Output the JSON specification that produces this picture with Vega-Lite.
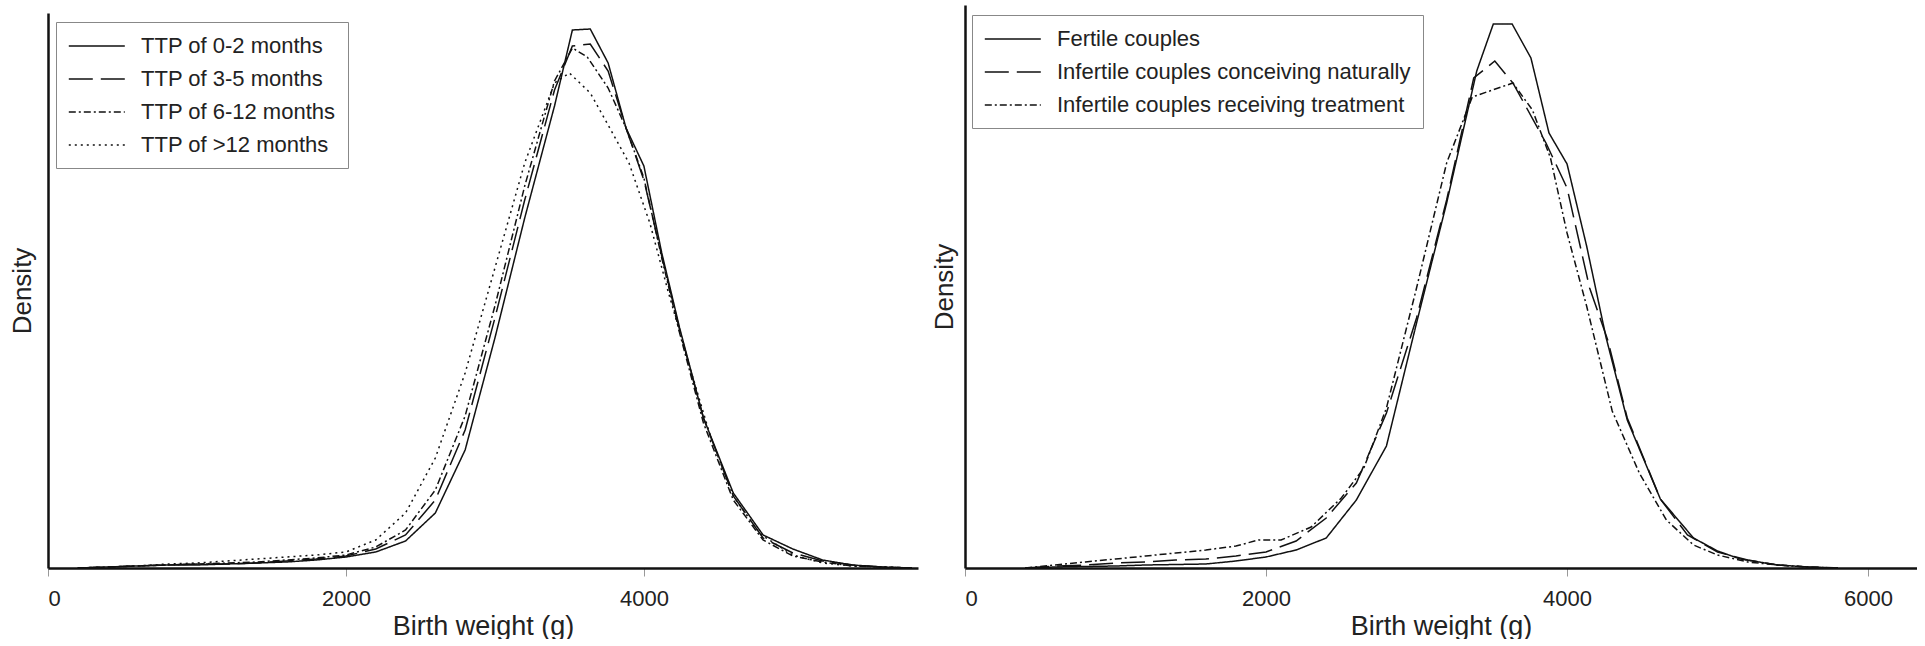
{
  "$schema": "https://vega.github.io/schema/vega-lite/v6.json",
  "background": "white",
  "padding": {"left": 9, "top": 5, "right": 0, "bottom": 0},
  "bounds": "flush",
  "spacing": 47,
  "config": {"view": {"stroke": null}, "font": "Liberation Sans"},
  "resolve": {"scale": {"x": "independent", "y": "independent", "strokeDash": "independent"}, "legend": {"strokeDash": "independent"}},
  "datasets": {
    "ttp": [
      {"group": "TTP of 0-2 months", "weight": 200, "density": 0},
      {"group": "TTP of 0-2 months", "weight": 400, "density": 1},
      {"group": "TTP of 0-2 months", "weight": 600, "density": 2},
      {"group": "TTP of 0-2 months", "weight": 800, "density": 3},
      {"group": "TTP of 0-2 months", "weight": 1000, "density": 3},
      {"group": "TTP of 0-2 months", "weight": 1200, "density": 4},
      {"group": "TTP of 0-2 months", "weight": 1400, "density": 5},
      {"group": "TTP of 0-2 months", "weight": 1600, "density": 6},
      {"group": "TTP of 0-2 months", "weight": 1800, "density": 8},
      {"group": "TTP of 0-2 months", "weight": 2000, "density": 11},
      {"group": "TTP of 0-2 months", "weight": 2200, "density": 16},
      {"group": "TTP of 0-2 months", "weight": 2400, "density": 27},
      {"group": "TTP of 0-2 months", "weight": 2600, "density": 55},
      {"group": "TTP of 0-2 months", "weight": 2800, "density": 118},
      {"group": "TTP of 0-2 months", "weight": 3000, "density": 230},
      {"group": "TTP of 0-2 months", "weight": 3200, "density": 350},
      {"group": "TTP of 0-2 months", "weight": 3400, "density": 462},
      {"group": "TTP of 0-2 months", "weight": 3520, "density": 538},
      {"group": "TTP of 0-2 months", "weight": 3640, "density": 539},
      {"group": "TTP of 0-2 months", "weight": 3760, "density": 505},
      {"group": "TTP of 0-2 months", "weight": 3880, "density": 440},
      {"group": "TTP of 0-2 months", "weight": 4000, "density": 402},
      {"group": "TTP of 0-2 months", "weight": 4120, "density": 315},
      {"group": "TTP of 0-2 months", "weight": 4240, "density": 240},
      {"group": "TTP of 0-2 months", "weight": 4400, "density": 150},
      {"group": "TTP of 0-2 months", "weight": 4600, "density": 75},
      {"group": "TTP of 0-2 months", "weight": 4800, "density": 33},
      {"group": "TTP of 0-2 months", "weight": 5000, "density": 19},
      {"group": "TTP of 0-2 months", "weight": 5200, "density": 8},
      {"group": "TTP of 0-2 months", "weight": 5400, "density": 3},
      {"group": "TTP of 0-2 months", "weight": 5600, "density": 1},
      {"group": "TTP of 0-2 months", "weight": 5800, "density": 0},

      {"group": "TTP of 3-5 months", "weight": 200, "density": 0},
      {"group": "TTP of 3-5 months", "weight": 400, "density": 1},
      {"group": "TTP of 3-5 months", "weight": 600, "density": 2},
      {"group": "TTP of 3-5 months", "weight": 800, "density": 3},
      {"group": "TTP of 3-5 months", "weight": 1000, "density": 4},
      {"group": "TTP of 3-5 months", "weight": 1200, "density": 4},
      {"group": "TTP of 3-5 months", "weight": 1400, "density": 5},
      {"group": "TTP of 3-5 months", "weight": 1600, "density": 7},
      {"group": "TTP of 3-5 months", "weight": 1800, "density": 9},
      {"group": "TTP of 3-5 months", "weight": 2000, "density": 12},
      {"group": "TTP of 3-5 months", "weight": 2200, "density": 19},
      {"group": "TTP of 3-5 months", "weight": 2400, "density": 33},
      {"group": "TTP of 3-5 months", "weight": 2600, "density": 68},
      {"group": "TTP of 3-5 months", "weight": 2800, "density": 138},
      {"group": "TTP of 3-5 months", "weight": 3000, "density": 250},
      {"group": "TTP of 3-5 months", "weight": 3200, "density": 368},
      {"group": "TTP of 3-5 months", "weight": 3400, "density": 478},
      {"group": "TTP of 3-5 months", "weight": 3520, "density": 522},
      {"group": "TTP of 3-5 months", "weight": 3640, "density": 524},
      {"group": "TTP of 3-5 months", "weight": 3760, "density": 497},
      {"group": "TTP of 3-5 months", "weight": 3880, "density": 440},
      {"group": "TTP of 3-5 months", "weight": 4000, "density": 388},
      {"group": "TTP of 3-5 months", "weight": 4120, "density": 312},
      {"group": "TTP of 3-5 months", "weight": 4240, "density": 238},
      {"group": "TTP of 3-5 months", "weight": 4400, "density": 150},
      {"group": "TTP of 3-5 months", "weight": 4600, "density": 72},
      {"group": "TTP of 3-5 months", "weight": 4800, "density": 30},
      {"group": "TTP of 3-5 months", "weight": 5000, "density": 15},
      {"group": "TTP of 3-5 months", "weight": 5200, "density": 7},
      {"group": "TTP of 3-5 months", "weight": 5400, "density": 3},
      {"group": "TTP of 3-5 months", "weight": 5600, "density": 1},
      {"group": "TTP of 3-5 months", "weight": 5800, "density": 0},

      {"group": "TTP of 6-12 months", "weight": 200, "density": 0},
      {"group": "TTP of 6-12 months", "weight": 400, "density": 1},
      {"group": "TTP of 6-12 months", "weight": 600, "density": 2},
      {"group": "TTP of 6-12 months", "weight": 800, "density": 3},
      {"group": "TTP of 6-12 months", "weight": 1000, "density": 4},
      {"group": "TTP of 6-12 months", "weight": 1200, "density": 5},
      {"group": "TTP of 6-12 months", "weight": 1400, "density": 6},
      {"group": "TTP of 6-12 months", "weight": 1600, "density": 8},
      {"group": "TTP of 6-12 months", "weight": 1800, "density": 10},
      {"group": "TTP of 6-12 months", "weight": 2000, "density": 13},
      {"group": "TTP of 6-12 months", "weight": 2200, "density": 21},
      {"group": "TTP of 6-12 months", "weight": 2400, "density": 38},
      {"group": "TTP of 6-12 months", "weight": 2600, "density": 78},
      {"group": "TTP of 6-12 months", "weight": 2800, "density": 152},
      {"group": "TTP of 6-12 months", "weight": 3000, "density": 262},
      {"group": "TTP of 6-12 months", "weight": 3200, "density": 382},
      {"group": "TTP of 6-12 months", "weight": 3400, "density": 487},
      {"group": "TTP of 6-12 months", "weight": 3520, "density": 520},
      {"group": "TTP of 6-12 months", "weight": 3620, "density": 511},
      {"group": "TTP of 6-12 months", "weight": 3760, "density": 480},
      {"group": "TTP of 6-12 months", "weight": 3880, "density": 440},
      {"group": "TTP of 6-12 months", "weight": 4000, "density": 390},
      {"group": "TTP of 6-12 months", "weight": 4120, "density": 310},
      {"group": "TTP of 6-12 months", "weight": 4240, "density": 235},
      {"group": "TTP of 6-12 months", "weight": 4400, "density": 145},
      {"group": "TTP of 6-12 months", "weight": 4600, "density": 68},
      {"group": "TTP of 6-12 months", "weight": 4800, "density": 28},
      {"group": "TTP of 6-12 months", "weight": 5000, "density": 12},
      {"group": "TTP of 6-12 months", "weight": 5200, "density": 6},
      {"group": "TTP of 6-12 months", "weight": 5400, "density": 2},
      {"group": "TTP of 6-12 months", "weight": 5600, "density": 1},
      {"group": "TTP of 6-12 months", "weight": 5800, "density": 0},

      {"group": "TTP of >12 months", "weight": 200, "density": 0},
      {"group": "TTP of >12 months", "weight": 400, "density": 1},
      {"group": "TTP of >12 months", "weight": 600, "density": 2},
      {"group": "TTP of >12 months", "weight": 800, "density": 4},
      {"group": "TTP of >12 months", "weight": 1000, "density": 5},
      {"group": "TTP of >12 months", "weight": 1200, "density": 7},
      {"group": "TTP of >12 months", "weight": 1400, "density": 9},
      {"group": "TTP of >12 months", "weight": 1600, "density": 11},
      {"group": "TTP of >12 months", "weight": 1800, "density": 13},
      {"group": "TTP of >12 months", "weight": 2000, "density": 16},
      {"group": "TTP of >12 months", "weight": 2200, "density": 28},
      {"group": "TTP of >12 months", "weight": 2400, "density": 55},
      {"group": "TTP of >12 months", "weight": 2600, "density": 110},
      {"group": "TTP of >12 months", "weight": 2800, "density": 195},
      {"group": "TTP of >12 months", "weight": 3000, "density": 300},
      {"group": "TTP of >12 months", "weight": 3200, "density": 405},
      {"group": "TTP of >12 months", "weight": 3400, "density": 485},
      {"group": "TTP of >12 months", "weight": 3500, "density": 495},
      {"group": "TTP of >12 months", "weight": 3640, "density": 475},
      {"group": "TTP of >12 months", "weight": 3760, "density": 443},
      {"group": "TTP of >12 months", "weight": 3900, "density": 405},
      {"group": "TTP of >12 months", "weight": 4040, "density": 345},
      {"group": "TTP of >12 months", "weight": 4160, "density": 278},
      {"group": "TTP of >12 months", "weight": 4300, "density": 205},
      {"group": "TTP of >12 months", "weight": 4450, "density": 130},
      {"group": "TTP of >12 months", "weight": 4600, "density": 72},
      {"group": "TTP of >12 months", "weight": 4780, "density": 34},
      {"group": "TTP of >12 months", "weight": 5000, "density": 13},
      {"group": "TTP of >12 months", "weight": 5200, "density": 5},
      {"group": "TTP of >12 months", "weight": 5400, "density": 2},
      {"group": "TTP of >12 months", "weight": 5600, "density": 1},
      {"group": "TTP of >12 months", "weight": 5800, "density": 0}
    ],
    "fert": [
      {"group": "Fertile couples", "weight": 400, "density": 0},
      {"group": "Fertile couples", "weight": 600, "density": 1},
      {"group": "Fertile couples", "weight": 800, "density": 1.5},
      {"group": "Fertile couples", "weight": 1000, "density": 2},
      {"group": "Fertile couples", "weight": 1200, "density": 3},
      {"group": "Fertile couples", "weight": 1400, "density": 3.5},
      {"group": "Fertile couples", "weight": 1600, "density": 4},
      {"group": "Fertile couples", "weight": 1800, "density": 7},
      {"group": "Fertile couples", "weight": 2000, "density": 11},
      {"group": "Fertile couples", "weight": 2200, "density": 18},
      {"group": "Fertile couples", "weight": 2400, "density": 30},
      {"group": "Fertile couples", "weight": 2600, "density": 68},
      {"group": "Fertile couples", "weight": 2800, "density": 122},
      {"group": "Fertile couples", "weight": 3000, "density": 245},
      {"group": "Fertile couples", "weight": 3200, "density": 365},
      {"group": "Fertile couples", "weight": 3400, "density": 497},
      {"group": "Fertile couples", "weight": 3510, "density": 544},
      {"group": "Fertile couples", "weight": 3635, "density": 544},
      {"group": "Fertile couples", "weight": 3760, "density": 510},
      {"group": "Fertile couples", "weight": 3880, "density": 435},
      {"group": "Fertile couples", "weight": 4000, "density": 404},
      {"group": "Fertile couples", "weight": 4130, "density": 322},
      {"group": "Fertile couples", "weight": 4260, "density": 230},
      {"group": "Fertile couples", "weight": 4400, "density": 148},
      {"group": "Fertile couples", "weight": 4620, "density": 69},
      {"group": "Fertile couples", "weight": 4840, "density": 30},
      {"group": "Fertile couples", "weight": 5000, "density": 17},
      {"group": "Fertile couples", "weight": 5150, "density": 9},
      {"group": "Fertile couples", "weight": 5400, "density": 3},
      {"group": "Fertile couples", "weight": 5600, "density": 1},
      {"group": "Fertile couples", "weight": 5800, "density": 0},

      {"group": "Infertile couples conceiving naturally", "weight": 400, "density": 0},
      {"group": "Infertile couples conceiving naturally", "weight": 600, "density": 2},
      {"group": "Infertile couples conceiving naturally", "weight": 800, "density": 3},
      {"group": "Infertile couples conceiving naturally", "weight": 1000, "density": 5},
      {"group": "Infertile couples conceiving naturally", "weight": 1200, "density": 6},
      {"group": "Infertile couples conceiving naturally", "weight": 1400, "density": 8},
      {"group": "Infertile couples conceiving naturally", "weight": 1600, "density": 9},
      {"group": "Infertile couples conceiving naturally", "weight": 1800, "density": 12},
      {"group": "Infertile couples conceiving naturally", "weight": 2000, "density": 16},
      {"group": "Infertile couples conceiving naturally", "weight": 2200, "density": 27},
      {"group": "Infertile couples conceiving naturally", "weight": 2400, "density": 50},
      {"group": "Infertile couples conceiving naturally", "weight": 2600, "density": 85},
      {"group": "Infertile couples conceiving naturally", "weight": 2800, "density": 155},
      {"group": "Infertile couples conceiving naturally", "weight": 3000, "density": 250},
      {"group": "Infertile couples conceiving naturally", "weight": 3200, "density": 368},
      {"group": "Infertile couples conceiving naturally", "weight": 3380, "density": 490},
      {"group": "Infertile couples conceiving naturally", "weight": 3520, "density": 507},
      {"group": "Infertile couples conceiving naturally", "weight": 3640, "density": 485},
      {"group": "Infertile couples conceiving naturally", "weight": 3860, "density": 425},
      {"group": "Infertile couples conceiving naturally", "weight": 4000, "density": 380},
      {"group": "Infertile couples conceiving naturally", "weight": 4150, "density": 280},
      {"group": "Infertile couples conceiving naturally", "weight": 4270, "density": 228},
      {"group": "Infertile couples conceiving naturally", "weight": 4400, "density": 150},
      {"group": "Infertile couples conceiving naturally", "weight": 4620, "density": 69},
      {"group": "Infertile couples conceiving naturally", "weight": 4800, "density": 33},
      {"group": "Infertile couples conceiving naturally", "weight": 5000, "density": 16},
      {"group": "Infertile couples conceiving naturally", "weight": 5200, "density": 8},
      {"group": "Infertile couples conceiving naturally", "weight": 5400, "density": 3},
      {"group": "Infertile couples conceiving naturally", "weight": 5600, "density": 1},
      {"group": "Infertile couples conceiving naturally", "weight": 5800, "density": 0},

      {"group": "Infertile couples receiving treatment", "weight": 400, "density": 0},
      {"group": "Infertile couples receiving treatment", "weight": 600, "density": 3},
      {"group": "Infertile couples receiving treatment", "weight": 800, "density": 6},
      {"group": "Infertile couples receiving treatment", "weight": 1000, "density": 9},
      {"group": "Infertile couples receiving treatment", "weight": 1200, "density": 12},
      {"group": "Infertile couples receiving treatment", "weight": 1400, "density": 15},
      {"group": "Infertile couples receiving treatment", "weight": 1600, "density": 18},
      {"group": "Infertile couples receiving treatment", "weight": 1800, "density": 22},
      {"group": "Infertile couples receiving treatment", "weight": 1950, "density": 28},
      {"group": "Infertile couples receiving treatment", "weight": 2100, "density": 28},
      {"group": "Infertile couples receiving treatment", "weight": 2300, "density": 41},
      {"group": "Infertile couples receiving treatment", "weight": 2500, "density": 70},
      {"group": "Infertile couples receiving treatment", "weight": 2650, "density": 100},
      {"group": "Infertile couples receiving treatment", "weight": 2800, "density": 160},
      {"group": "Infertile couples receiving treatment", "weight": 3000, "density": 280},
      {"group": "Infertile couples receiving treatment", "weight": 3200, "density": 405},
      {"group": "Infertile couples receiving treatment", "weight": 3370, "density": 471},
      {"group": "Infertile couples receiving treatment", "weight": 3640, "density": 485},
      {"group": "Infertile couples receiving treatment", "weight": 3770, "density": 458},
      {"group": "Infertile couples receiving treatment", "weight": 3890, "density": 410},
      {"group": "Infertile couples receiving treatment", "weight": 4000, "density": 335},
      {"group": "Infertile couples receiving treatment", "weight": 4130, "density": 262},
      {"group": "Infertile couples receiving treatment", "weight": 4300, "density": 157},
      {"group": "Infertile couples receiving treatment", "weight": 4480, "density": 95},
      {"group": "Infertile couples receiving treatment", "weight": 4660, "density": 48},
      {"group": "Infertile couples receiving treatment", "weight": 4840, "density": 23},
      {"group": "Infertile couples receiving treatment", "weight": 5000, "density": 13},
      {"group": "Infertile couples receiving treatment", "weight": 5200, "density": 6},
      {"group": "Infertile couples receiving treatment", "weight": 5400, "density": 3},
      {"group": "Infertile couples receiving treatment", "weight": 5600, "density": 1},
      {"group": "Infertile couples receiving treatment", "weight": 5800, "density": 0}
    ]
  },
  "hconcat": [
    {
      "width": 870,
      "height": 563,
      "data": {"name": "ttp"},
      "mark": {"type": "line", "strokeWidth": 1.5, "color": "#111", "clip": true},
      "encoding": {
        "x": {"field": "weight", "type": "quantitative",
          "scale": {"domain": [0, 5840], "nice": false, "zero": false},
          "axis": {"values": [0, 2000, 4000], "format": "d", "title": "Birth weight (g)", "grid": false,
            "domainColor": "#111", "domainWidth": 2.5, "tickColor": "#999", "tickWidth": 1, "tickSize": 8,
            "labelFont": "Liberation Sans", "labelFontSize": 22, "labelColor": "#222", "labelPadding": 12,
            "titleFont": "Liberation Sans", "titleFontSize": 27, "titleFontWeight": "normal", "titleColor": "#222", "titlePadding": 4}},
        "y": {"field": "density", "type": "quantitative",
          "scale": {"domain": [0, 555], "range": [563, 8], "nice": false},
          "axis": {"title": "Density", "grid": false, "ticks": false, "labels": false,
            "domainColor": "#111", "domainWidth": 2.5,
            "titleFont": "Liberation Sans", "titleFontSize": 26, "titleFontWeight": "normal", "titleColor": "#222", "titlePadding": 13}},
        "strokeDash": {"field": "group", "type": "nominal",
          "scale": {"domain": ["TTP of 0-2 months", "TTP of 3-5 months", "TTP of 6-12 months", "TTP of >12 months"],
            "range": [[1, 0], [24, 8], [7, 3, 2, 3], [2, 4]]},
          "legend": {"title": null, "orient": "none", "legendX": 8, "legendY": 17,
            "symbolType": "M-1,0H4", "symbolSize": 502, "symbolStrokeWidth": 1.5, "symbolStrokeColor": "#111",
            "labelFont": "Liberation Sans", "labelFontSize": 22, "labelColor": "#222", "labelOffset": 49, "labelLimit": 500,
            "rowPadding": 10, "padding": 12, "strokeColor": "#888", "fillColor": "white"}}
      }
    },
    {
      "width": 952,
      "height": 563,
      "data": {"name": "fert"},
      "mark": {"type": "line", "strokeWidth": 1.5, "color": "#111", "clip": true},
      "encoding": {
        "x": {"field": "weight", "type": "quantitative",
          "scale": {"domain": [0, 6325], "nice": false, "zero": false},
          "axis": {"values": [0, 2000, 4000, 6000], "format": "d", "title": "Birth weight (g)", "grid": false,
            "domainColor": "#111", "domainWidth": 2.5, "tickColor": "#999", "tickWidth": 1, "tickSize": 8,
            "labelFont": "Liberation Sans", "labelFontSize": 22, "labelColor": "#222", "labelPadding": 12,
            "titleFont": "Liberation Sans", "titleFontSize": 27, "titleFontWeight": "normal", "titleColor": "#222", "titlePadding": 4}},
        "y": {"field": "density", "type": "quantitative",
          "scale": {"domain": [0, 563], "nice": false},
          "axis": {"title": "Density", "grid": false, "ticks": false, "labels": false,
            "domainColor": "#111", "domainWidth": 2.5,
            "titleFont": "Liberation Sans", "titleFontSize": 26, "titleFontWeight": "normal", "titleColor": "#222", "titlePadding": 8}},
        "strokeDash": {"field": "group", "type": "nominal",
          "scale": {"domain": ["Fertile couples", "Infertile couples conceiving naturally", "Infertile couples receiving treatment"],
            "range": [[1, 0], [24, 8], [7, 3, 2, 3]]},
          "legend": {"title": null, "orient": "none", "legendX": 7, "legendY": 10,
            "symbolType": "M-1,0H4", "symbolSize": 502, "symbolStrokeWidth": 1.5, "symbolStrokeColor": "#111",
            "labelFont": "Liberation Sans", "labelFontSize": 22, "labelColor": "#222", "labelOffset": 49, "labelLimit": 500,
            "rowPadding": 10, "padding": 12, "strokeColor": "#888", "fillColor": "white"}}
      }
    }
  ]
}
